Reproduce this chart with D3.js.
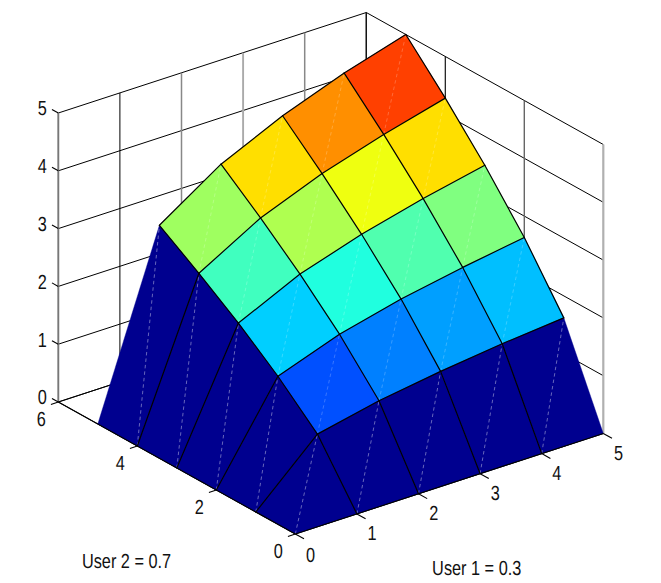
<!DOCTYPE html>
<html>
<head>
<meta charset="utf-8">
<style>
html,body{margin:0;padding:0;background:#fff;}
svg{display:block;}
text{font-family:"Liberation Sans",Arial,sans-serif;fill:#111;text-rendering:geometricPrecision;}
</style>
<script src="https://d3js.org/d3.v7.min.js"></script>
</head>
<body>
<svg id="chart" width="661" height="583"></svg>
<script>
// ---- data ----
const xTicks = [0, 1, 2, 3, 4, 5];
const yTicks = [0, 2, 4, 6];
const zTicks = [0, 1, 2, 3, 4, 5];
const gridX = [0, 1, 2, 3, 4, 5];
const gridY = [0, 1, 2, 3, 4, 5];
const utilityY0 = [0, 0, 0, 0, 0, 0];
const utilityY1 = [0, 1.00, 1.23, 1.39, 1.52, 1.62];
const utilityY2 = [0, 1.62, 2.00, 2.26, 2.46, 2.63];
const utilityY3 = [0, 2.16, 2.66, 3.00, 3.27, 3.50];
const utilityY4 = [0, 2.64, 3.25, 3.67, 4.00, 4.28];
const utilityY5 = [0, 3.09, 3.80, 4.29, 4.68, 5.00];
const utility = [utilityY0, utilityY1, utilityY2, utilityY3, utilityY4, utilityY5];
const labelUser1 = "User 1 = 0.3";
const labelUser2 = "User 2 = 0.7";

// ---- oblique projection built from linear scales ----
const originX = 295.3, originY = 534;
const xSX = d3.scaleLinear().domain([0, 5]).range([0, 308]);
const xSY = d3.scaleLinear().domain([0, 5]).range([0, -100.5]);
const ySX = d3.scaleLinear().domain([0, 6]).range([0, -237]);
const ySY = d3.scaleLinear().domain([0, 6]).range([0, -132]);
const zSY = d3.scaleLinear().domain([0, 5]).range([0, -289]);
const px = (x, y) => originX + xSX(x) + ySX(y);
const py = (x, y, z) => originY + xSY(x) + ySY(y) + zSY(z);
const P = (x, y, z) => [px(x, y), py(x, y, z)];

// ---- MATLAB jet(64) ----
const jet = d3.scaleLinear()
  .domain([1, 8, 24, 40, 56, 64])
  .range(["rgb(0,0,143)", "rgb(0,0,255)", "rgb(0,255,255)", "rgb(255,255,0)", "rgb(255,0,0)", "rgb(143,0,0)"])
  .interpolate(d3.interpolateRgb);
const colorOf = z => jet(Math.min(64, Math.floor(z / 5 * 64) + 1));

const svg = d3.select("#chart");
const line = d3.line();
const xMax = d3.max(xTicks), yMax = d3.max(yTicks), zMax = d3.max(zTicks);

// ---- back walls and floor grid ----
const grid = svg.append("g").attr("fill", "none").attr("stroke", "#000").attr("stroke-width", 1);
const seg = (g, a, b) => g.append("path").attr("d", line([a, b]));
// the reference's verticals are resampled to different grey weights
const xWallStyle = {0: ["#777", 1.9], 1: ["#000", 1], 2: ["#888", 1.5], 3: ["#aaa", 1.9], 4: ["#888", 1.5], 5: ["#111", 1.2]};
const yWallStyle = {0: ["#b0b0b0", 2.2], 2: ["#666", 1.4], 4: ["#111", 1.2], 6: ["#111", 1.2]};
zTicks.forEach(z => {
  seg(grid, P(0, yMax, z), P(xMax, yMax, z));
  seg(grid, P(xMax, yMax, z), P(xMax, 0, z));
});
xTicks.forEach(x => {
  seg(grid, P(x, yMax, 0), P(x, yMax, zMax))
    .attr("stroke", xWallStyle[x][0]).attr("stroke-width", xWallStyle[x][1]);
  seg(grid, P(x, 0, 0), P(x, yMax, 0));
});
yTicks.forEach(y => {
  seg(grid, P(xMax, y, 0), P(xMax, y, zMax))
    .attr("stroke", yWallStyle[y][0]).attr("stroke-width", yWallStyle[y][1]);
  seg(grid, P(0, y, 0), P(xMax, y, 0));
});

// ---- surface, painted from back to front ----
const surf = svg.append("g");
const faces = [];
for (let j = gridY.length - 2; j >= 0; j--) {
  for (let i = gridX.length - 2; i >= 0; i--) faces.push({i, j});
}
surf.selectAll("path.face").data(faces).join("path")
  .attr("class", "face")
  .attr("d", d => line([
    P(gridX[d.i], gridY[d.j], utility[d.j][d.i]),
    P(gridX[d.i + 1], gridY[d.j], utility[d.j][d.i + 1]),
    P(gridX[d.i + 1], gridY[d.j + 1], utility[d.j + 1][d.i + 1]),
    P(gridX[d.i], gridY[d.j + 1], utility[d.j + 1][d.i])
  ]) + "Z")
  .attr("fill", d => colorOf(utility[d.j][d.i]))
  .attr("stroke", d => colorOf(utility[d.j][d.i]))
  .attr("stroke-width", 0.4);

// faint dashed seams across each face
surf.selectAll("path.seam").data(faces).join("path")
  .attr("class", "seam")
  .attr("d", d => line([
    P(gridX[d.i], gridY[d.j], utility[d.j][d.i]),
    P(gridX[d.i + 1], gridY[d.j + 1], utility[d.j + 1][d.i + 1])
  ]))
  .attr("fill", "none")
  .attr("stroke", "#fff")
  .attr("stroke-opacity", d => (d.i === 0 || d.j === 0) ? 0.5 : 0.28)
  .attr("stroke-width", 0.8)
  .attr("stroke-dasharray", "3.5 3");

// mesh edges
const mesh = svg.append("g").attr("fill", "none").attr("stroke", "#000")
  .attr("stroke-width", 1.2).attr("stroke-linecap", "round");
gridY.forEach((y, j) => {
  if (j === 0) return;
  const first = j === gridY.length - 1 ? 1 : 0;
  for (let i = first; i < gridX.length - 1; i++) {
    seg(mesh, P(gridX[i], y, utility[j][i]), P(gridX[i + 1], y, utility[j][i + 1]));
  }
});
gridX.forEach((x, i) => {
  if (i === 0) return;
  const first = i === gridX.length - 1 ? 1 : 0;
  for (let j = first; j < gridY.length - 1; j++) {
    seg(mesh, P(x, gridY[j], utility[j][i]), P(x, gridY[j + 1], utility[j + 1][i]));
  }
});

// ---- axes and ticks ----
const axes = svg.append("g").attr("fill", "none").attr("stroke", "#000").attr("stroke-width", 1.1);
seg(axes, P(0, 0, 0), P(xMax, 0, 0));
seg(axes, P(0, 0, 0), P(0, yMax, 0));
xTicks.forEach(x => seg(axes, P(x, 0, 0), P(x, -0.22, 0)));
yTicks.forEach(y => seg(axes, P(0, y, 0), P(-0.12, y, 0)));
zTicks.forEach(z => seg(axes, P(0, yMax, z), P(0, yMax + 0.16, z)));

// ---- text ----
const fontSize = 16.3, stretch = 1.25;
const label = (cx, cy, s) => svg.append("text")
  .attr("transform", `translate(${cx},${cy}) scale(1,${stretch})`)
  .attr("text-anchor", "middle")
  .attr("dy", "0.36em")
  .attr("font-size", fontSize)
  .text(s);

xTicks.forEach(x => {
  const [a, b] = P(x, -0.22, 0);
  label(a + 6.5, b + (x === 0 ? 16 : 14), String(x));
});
yTicks.forEach(y => {
  const [a, b] = P(0, y, 0);
  label(a - 17, b + 17, String(y));
});
zTicks.forEach(z => {
  const [a, b] = P(0, yMax, z);
  label(a - 16, b - 5, String(z));
});
label(126.5, 560.7, labelUser2);
label(476.7, 568, labelUser1);
</script>
</body>
</html>
